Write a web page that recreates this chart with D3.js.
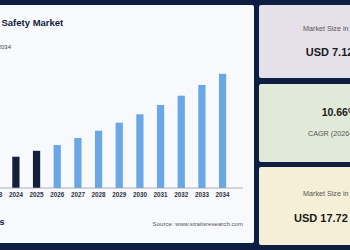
<!DOCTYPE html>
<html><head><meta charset="utf-8">
<script src="https://cdn.jsdelivr.net/npm/d3@7"></script>
<style>html,body{margin:0;padding:0;background:#0d1e42;overflow:hidden;}svg{display:block;font-family:"Liberation Sans",Arial,sans-serif;}</style>
</head><body>
<script>
const years = ["2023","2024","2025","2026","2027","2028","2029","2030","2031","2032","2033","2034"];
const values = [5.70,6.31,7.12,7.92,8.89,9.89,10.99,12.15,13.43,14.71,16.18,17.72];
const historical = ["2023","2024","2025"];
const titleText = "Safety Market";
const subtitleText = "2026-2034";
const sourceText = "Source: www.straitsresearch.com";
const cardLabels = ["Market Size in 2025","CAGR (2026-2034)","Market Size in 2034"];
const cardValues = ["USD 7.12 Billion","10.66%","USD 17.72 Billion"];

const W = 350, H = 250;
const svg = d3.select("body").append("svg").attr("width", W).attr("height", H);
svg.append("rect").attr("width", W).attr("height", H).attr("fill", "#0d1e42");

// main panel
svg.append("rect").attr("x", -5).attr("y", 5).attr("width", 259).attr("height", 238).attr("rx", 2).attr("fill", "#f8f9fc");

svg.append("text").attr("x", 1.5).attr("y", 26).attr("font-size", 9.5).attr("font-weight", "bold").attr("fill", "#15203d").text(titleText);
svg.append("text").attr("x", 11).attr("y", 49).attr("text-anchor", "end").attr("font-size", 6).attr("fill", "#444").text(subtitleText);

const x = d3.scaleBand().domain(years).range([-14.6, 232.4]).paddingInner(0.65).paddingOuter(0.3);
const y = d3.scaleLinear().domain([2, 18]).range([188, 71.8]);

svg.selectAll("rect.bar").data(years).join("rect").attr("class", "bar")
  .attr("x", d => x(d)).attr("width", x.bandwidth())
  .attr("y", (d, i) => y(values[i])).attr("height", (d, i) => 188 - y(values[i]))
  .attr("fill", d => historical.includes(d) ? "#141f3c" : "#6aa7e6");

const axis = d3.axisBottom(x).tickSize(0).tickPadding(5);
const gA = svg.append("g").attr("transform", "translate(0,188)").call(axis);
gA.select(".domain").remove();
svg.append("line").attr("x1", 0).attr("x2", 243).attr("y1", 188).attr("y2", 188).attr("stroke", "#9aa0aa").attr("stroke-width", 0.8);
gA.selectAll("text").attr("font-size", 6.3).attr("font-weight", "bold").attr("fill", "#2c3340").attr("font-family", "Liberation Sans, Arial, sans-serif");

svg.append("text").attr("x", 4.5).attr("y", 225).attr("text-anchor", "end").attr("font-size", 9).attr("font-weight", "bold").attr("fill", "#15203d").text("Straits");
svg.append("text").attr("x", 243).attr("y", 225.5).attr("text-anchor", "end").attr("font-size", 6.1).attr("fill", "#555").text(sourceText);

// cards
const cards = [
  {y: 5, h: 73, fill: "#e5e0ea"},
  {y: 84, h: 78, fill: "#e1ead8"},
  {y: 167, h: 78, fill: "#f6efd8"}
];
svg.selectAll("rect.card").data(cards).join("rect").attr("class", "card")
  .attr("x", 259).attr("y", d => d.y).attr("width", 120).attr("height", d => d.h).attr("rx", 2).attr("fill", d => d.fill);

// card 1
svg.append("text").attr("x", 303).attr("y", 30.5).attr("font-size", 7.2).attr("fill", "#555").text(cardLabels[0]);
svg.append("text").attr("x", 305.7).attr("y", 56).attr("font-size", 11).attr("font-weight", "bold").attr("fill", "#1b1b1b").text(cardValues[0]);
// card 2
svg.append("text").attr("x", 321.7).attr("y", 115.5).attr("font-size", 10.5).attr("font-weight", "bold").attr("fill", "#1b1b1b").text(cardValues[1]);
svg.append("text").attr("x", 308).attr("y", 135.5).attr("font-size", 7.2).attr("fill", "#555").text(cardLabels[1]);
// card 3
svg.append("text").attr("x", 303).attr("y", 195.5).attr("font-size", 7.2).attr("fill", "#555").text(cardLabels[2]);
svg.append("text").attr("x", 294).attr("y", 222).attr("font-size", 11).attr("font-weight", "bold").attr("fill", "#1b1b1b").text(cardValues[2]);
</script>
</body></html>
